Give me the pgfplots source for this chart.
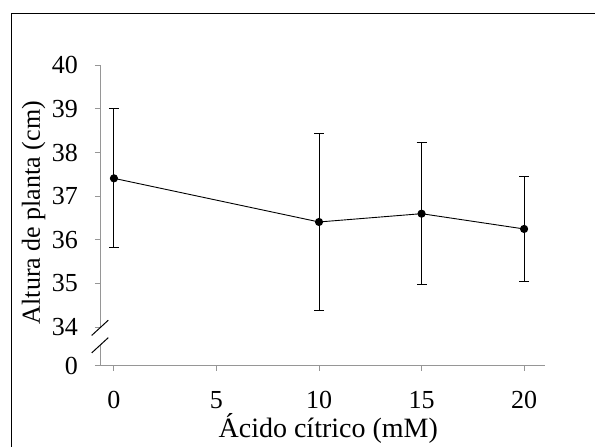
\documentclass[border=0pt]{standalone}
\usepackage{fontspec}
\setmainfont{Liberation Serif}
\usepackage{pgfplots}
\pgfplotsset{compat=1.18}
\definecolor{axgray}{RGB}{150,150,150}
\begin{document}
\begin{tikzpicture}[x=1pt,y=1pt]
\begin{axis}[
  at={(100pt,81pt)}, anchor=south west,
  scale only axis, width=445pt, height=300.7pt,
  xmin=-0.68, xmax=21.02,
  ymin=33.11, ymax=40,
  axis x line*=bottom, axis y line*=left,
  axis line style={axgray, line width=1pt, -},
  every tick/.style={axgray, line width=1pt},
  tick align=outside, major tick length=5pt,
  xtick={0,5,10,15,20},
  ytick={33.11,34,35,36,37,38,39,40},
  yticklabels={0,34,35,36,37,38,39,40},
  /pgf/number format/assume math mode=true,
  ticklabel style={font=\fontsize{26}{31}\selectfont, text=black},
  yticklabel style={inner sep=0pt, anchor=east, xshift=-17pt},
  xticklabel style={inner sep=0pt, anchor=north, yshift=-20pt},
  xlabel={Ácido cítrico (mM)},
  ylabel={Altura de planta (cm)},
  xlabel style={font=\fontsize{28}{33}\selectfont, at={(axis description cs:0.513,-0.2378)}, anchor=base, inner sep=0pt},
  ylabel style={font=\fontsize{26}{31}\selectfont, at={(axis description cs:-0.135,0.51)}, anchor=base, inner sep=0pt},
  clip=false,
]
\addplot[black, line width=0.9pt, mark=*, mark size=3.6pt,
  error bars/.cd, y dir=both, y explicit,
  error bar style={black, line width=0.9pt},
  error mark options={rotate=90, mark size=5pt, line width=0.9pt, black}]
  table[x=x, y=y, y error=e] {
x  y     e
0  37.41 1.59
10 36.41 2.02
15 36.60 1.63
20 36.25 1.20
};
\fill[white] (axis cs:-0.8,33.60) rectangle (axis cs:-0.56,33.97);
\draw[black, line width=1pt] (axis cs:-1.085,33.81) -- (axis cs:-0.275,34.16);
\draw[black, line width=1pt] (axis cs:-1.085,33.41) -- (axis cs:-0.275,33.76);
\end{axis}
\draw[black, line width=1.5pt] (11.5pt,-20pt) -- (11.5pt,433.5pt) -- (620pt,433.5pt);
\pgfresetboundingbox
\path[use as bounding box] (0,0) rectangle (595pt,447pt);
\end{tikzpicture}
\end{document}
